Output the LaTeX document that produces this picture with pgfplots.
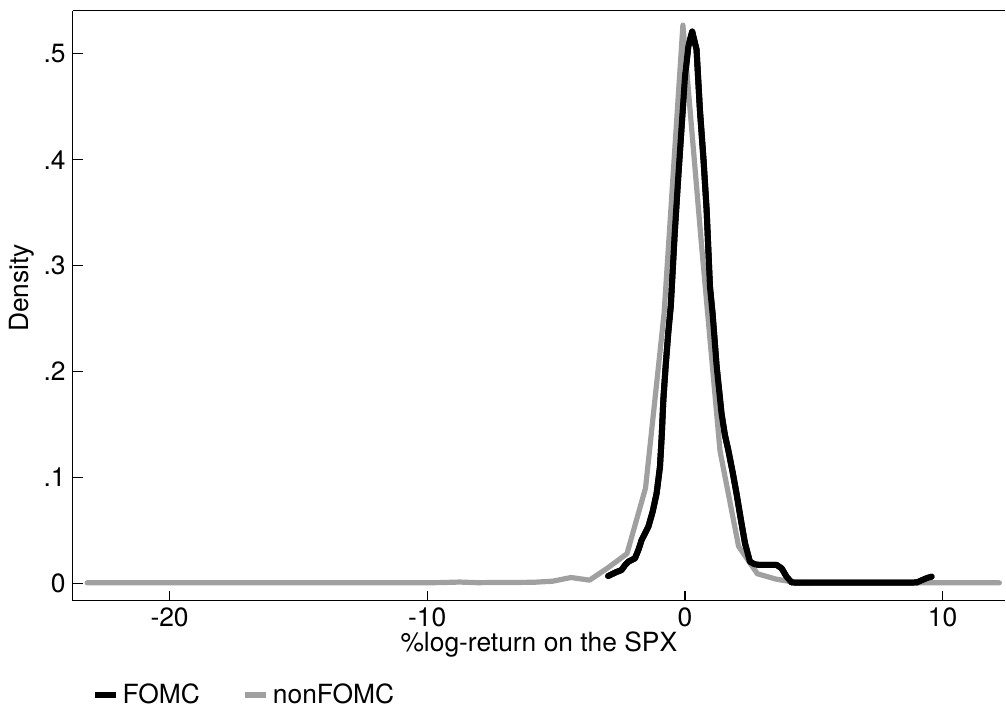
\documentclass[border=0pt]{standalone}
\usepackage{pgfplots}
\pgfplotsset{compat=1.18}
\usepackage{fontspec}
\setmainfont{TeX Gyre Heros}
\definecolor{sgray}{RGB}{160,160,160}
\pgfplotstableread{
x y
-2.98 0.0069
-2.72 0.0100
-2.46 0.0126
-2.33 0.0170
-2.20 0.0204
-1.94 0.0236
-1.80 0.0320
-1.68 0.0410
-1.42 0.0535
-1.25 0.0680
-1.10 0.0850
-0.97 0.1100
-0.90 0.1400
-0.84 0.1730
-0.75 0.2050
-0.65 0.2360
-0.55 0.2620
-0.40 0.3300
-0.26 0.3840
-0.12 0.4350
0.00 0.4780
0.13 0.5070
0.28 0.5210
0.45 0.5040
0.58 0.4470
0.72 0.4000
0.84 0.3530
0.97 0.2800
1.07 0.2550
1.23 0.2045
1.42 0.1600
1.55 0.1400
1.68 0.1260
1.85 0.1050
2.00 0.0850
2.17 0.0600
2.33 0.0378
2.52 0.0204
2.70 0.0180
2.91 0.0173
3.25 0.0175
3.56 0.0173
3.75 0.0142
3.95 0.0060
4.14 0.0008
5.00 0.0006
6.00 0.0006
7.00 0.0006
8.00 0.0006
9.00 0.0008
9.20 0.0030
9.40 0.0050
9.57 0.0063
}\fomc
\pgfplotstableread{
x y
-23.20 0.0005
-22.48 0.0005
-21.76 0.0005
-21.03 0.0005
-20.31 0.0005
-19.59 0.0005
-18.87 0.0005
-18.14 0.0005
-17.42 0.0005
-16.70 0.0005
-15.98 0.0005
-15.25 0.0005
-14.53 0.0005
-13.81 0.0005
-13.09 0.0005
-12.36 0.0005
-11.64 0.0005
-10.92 0.0005
-10.20 0.0005
-9.47 0.0007
-8.75 0.0012
-8.03 0.0006
-7.31 0.0008
-6.58 0.0008
-5.86 0.0010
-5.14 0.0020
-4.42 0.0055
-3.70 0.0030
-2.97 0.0150
-2.25 0.0280
-1.53 0.0900
-0.81 0.2550
-0.08 0.5270
0.64 0.3200
1.36 0.1250
2.08 0.0350
2.81 0.0090
3.53 0.0040
4.25 0.0010
4.97 0.0006
5.70 0.0005
6.42 0.0005
7.14 0.0005
7.86 0.0005
8.59 0.0005
9.31 0.0005
10.03 0.0005
10.75 0.0005
11.48 0.0005
12.20 0.0005
}\nonfomc
\begin{document}
\begin{tikzpicture}
\begin{axis}[
  scale only axis,
  width=466.15pt, height=295pt,
  xmin=-23.76, xmax=12.42,
  ymin=-0.0164, ymax=0.5407,
  axis x line*=box, axis y line*=left,
  axis line style={line width=0.7pt, -},
  tick style={line width=0.7pt, black},
  tick align=inside,
  major tick length=5pt,
  xtick={-20,-10,0,10},
  xticklabels={-20,-10,0,10},
  ytick={0,0.1,0.2,0.3,0.4,0.5},
  yticklabels={0,.1,.2,.3,.4,.5},
  xtick pos=bottom, ytick pos=left,
  font=\fontsize{13.2}{15.8}\selectfont,
  ticklabel style={font=\fontsize{13.2}{15.8}\selectfont},
  xlabel={\%log-return on the SPX},
  ylabel={Density},
  xlabel style={at={(axis description cs:0.5,-0.075)}, anchor=center},
  ylabel style={at={(axis description cs:-0.0545,0.53)}, anchor=center},
  legend style={draw=none, fill=none, at={(axis description cs:0.020,-0.160)}, anchor=west,
    legend columns=2, inner sep=0pt,
    /tikz/every even column/.append style={column sep=19pt},
    font=\fontsize{13.2}{15.8}\selectfont},
  legend image code/.code={\draw[#1, line width=3pt, line cap=butt] (0pt,0pt) -- (10.5pt,0pt);},
  clip=false,
]
\addplot[black, line width=3pt, line cap=round, line join=round] table[x=x,y=y]{\fomc};
\addlegendentry{FOMC}
\addplot[sgray, line width=2.6pt, line cap=round, line join=round] table[x=x,y=y]{\nonfomc};
\addlegendentry{nonFOMC}
\addplot[black, line width=3pt, line cap=round, line join=round, forget plot] table[x=x,y=y]{\fomc};
\end{axis}
\pgfresetboundingbox
\path[use as bounding box] ([xshift=-36.35pt,yshift=-54.15pt]current axis.south west) rectangle ([xshift=0.5pt,yshift=5.35pt]current axis.north east);
\end{tikzpicture}
\end{document}
